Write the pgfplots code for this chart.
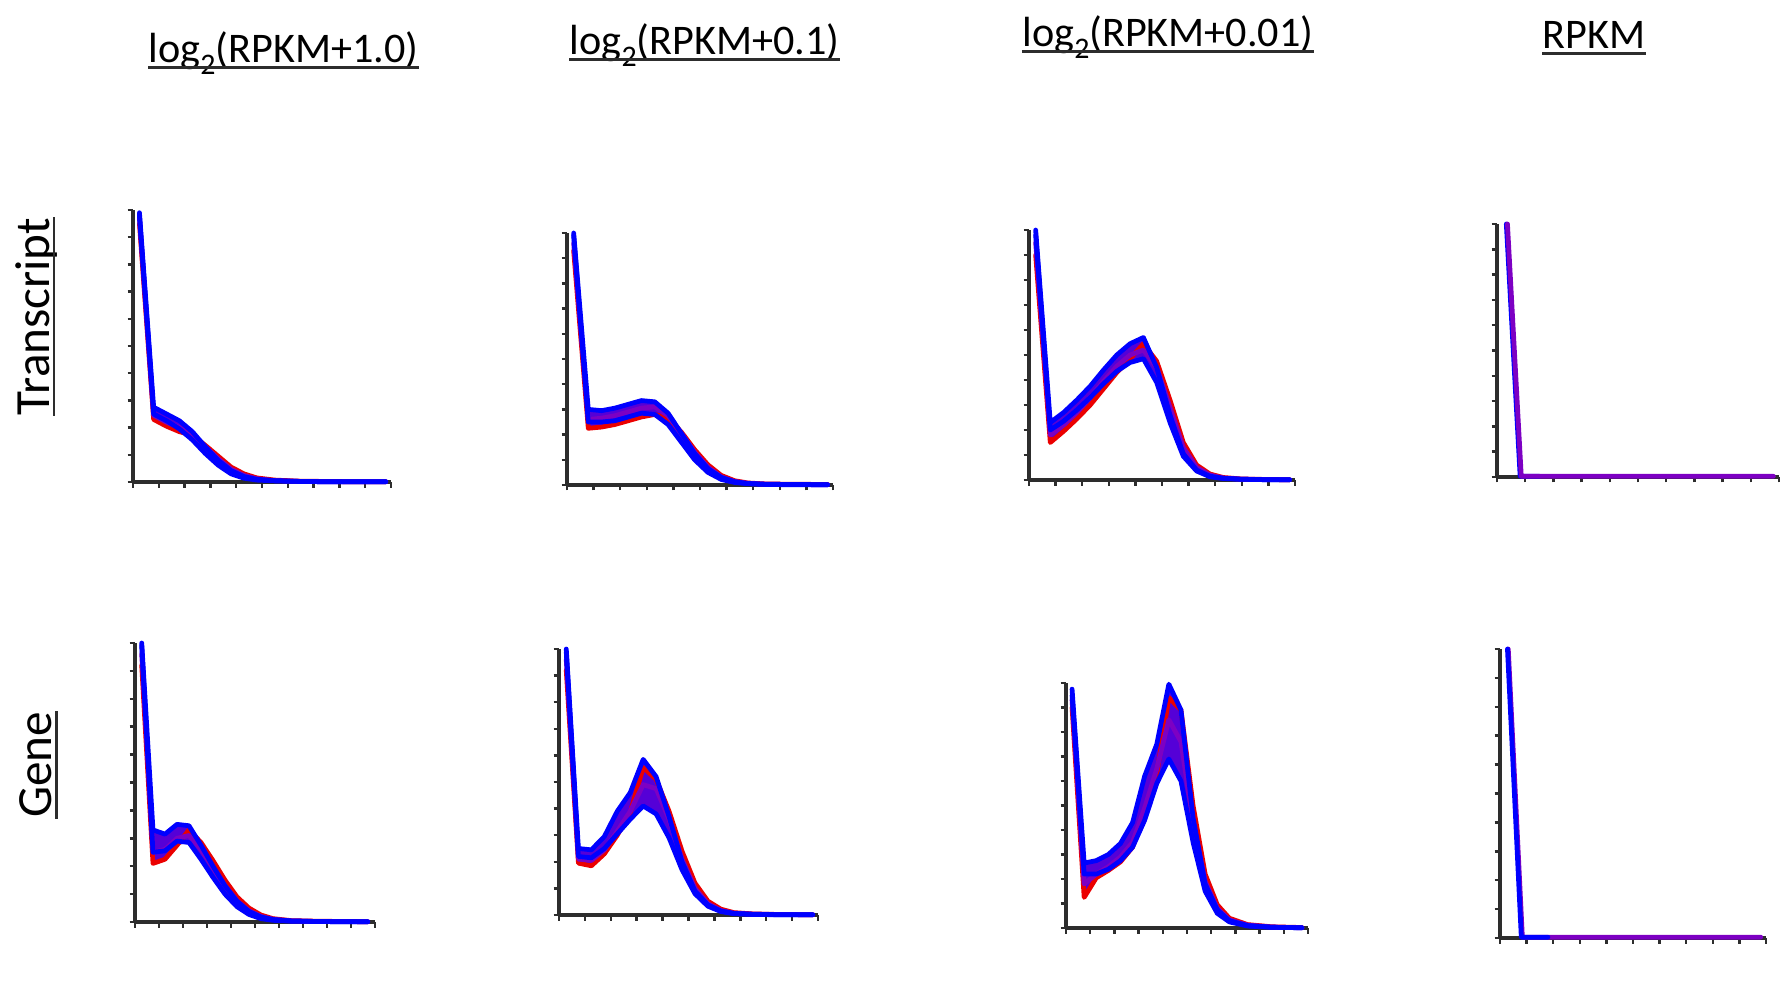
\documentclass[border=0pt]{standalone}
\usepackage{pgfplots}
\pgfplotsset{compat=1.18}
\usepackage{fontspec}
\setmainfont{Carlito}
\definecolor{cR}{RGB}{235,0,0}
\definecolor{cB}{RGB}{0,0,255}
\definecolor{cP}{RGB}{125,0,195}
\definecolor{cBand}{RGB}{85,0,215}
\definecolor{axc}{RGB}{45,45,45}
\newcommand{\subtwo}{\raisebox{-3.2pt}{\fontsize{8.5}{8.5}\selectfont 2}}
\pgfplotsset{
  panel/.style={scale only axis, anchor=south west,
    axis lines=left, axis line style={-, line width=0.9pt, axc},
    xmin=0, xmax=10, ymin=0, ymax=10,
    xtick={0,...,10}, ytick={0,...,10},
    xticklabels={}, yticklabels={},
    tick align=outside, major tick length=0.55mm,
    tick style={line width=0.7pt, axc}, clip=false},
  crv/.style={line width=1.35pt, line join=round, line cap=round, no markers},
  band/.style={fill=cBand, draw=none, no markers}
}
\begin{document}
\begin{tikzpicture}
\useasboundingbox (0,0) rectangle (178.5mm,98.1mm);
% column titles
\node[anchor=base, inner sep=0, font=\fontsize{12}{14}\selectfont] (t1) at (28.35mm,91.8mm) {log\subtwo(RPKM+1.0)};
\draw[line width=0.7pt, axc] ([yshift=-1.3pt]t1.base west) -- ([yshift=-1.3pt]t1.base east);
\node[anchor=base, inner sep=0, font=\fontsize{12}{14}\selectfont] (t2) at (70.47mm,92.6mm) {log\subtwo(RPKM+0.1)};
\draw[line width=0.7pt, axc] ([yshift=-1.3pt]t2.base west) -- ([yshift=-1.3pt]t2.base east);
\node[anchor=base, inner sep=0, font=\fontsize{12}{14}\selectfont] (t3) at (116.8mm,93.4mm) {log\subtwo(RPKM+0.01)};
\draw[line width=0.7pt, axc] ([yshift=-1.3pt]t3.base west) -- ([yshift=-1.3pt]t3.base east);
\node[anchor=base, inner sep=0, font=\fontsize{12}{14}\selectfont] (t4) at (159.4mm,93.2mm) {RPKM};
\draw[line width=0.7pt, axc] ([yshift=-1.3pt]t4.base west) -- ([yshift=-1.3pt]t4.base east);
% row labels
\node[anchor=base, inner sep=0, rotate=90, font=\fontsize{14}{16}\selectfont] (r1) at (4.9mm,66.45mm) {Transcript};
\draw[line width=0.7pt, axc] ([xshift=1.4pt]r1.base west) -- ([xshift=1.4pt]r1.base east);
\node[anchor=base, inner sep=0, rotate=90, font=\fontsize{14}{16}\selectfont] (r2) at (5.15mm,21.6mm) {Gene};
\draw[line width=0.7pt, axc] ([xshift=1.4pt]r2.base west) -- ([xshift=1.4pt]r2.base east);

% ---------- Panel 1: Transcript, log2(RPKM+1.0)
\begin{axis}[panel, at={(13.3mm,49.9mm)}, width=25.8mm, height=27.2mm]
\addplot[band] coordinates {(0.25,9.9) (0.8,2.75) (1.3,2.5) (1.8,2.25) (2.3,1.85) (2.8,1.35) (3.3,0.95) (3.8,0.55) (4.3,0.3) (4.8,0.15) (5.5,0.07) (6.5,0.03) (7.5,0.02) (8.5,0.01) (9.8,0.01)
 (9.8,0.01) (8.5,0.01) (7.5,0.01) (6.5,0.02) (5.5,0.04) (4.8,0.07) (4.3,0.14) (3.8,0.3) (3.3,0.62) (2.8,1.05) (2.3,1.55) (1.8,1.85) (1.3,2.05) (0.8,2.3) (0.25,9.5)};
\addplot[crv, cR] coordinates {(0.25,9.5) (0.8,2.3) (1.3,2.05) (1.8,1.85) (2.3,1.72) (2.8,1.35) (3.3,0.95) (3.8,0.55) (4.3,0.3) (4.8,0.15) (5.5,0.07) (6.5,0.03) (7.5,0.02) (8.5,0.01) (9.8,0.01)};
\addplot[crv, cP] coordinates {(0.25,9.7) (0.8,2.45) (1.3,2.2) (1.8,2.0) (2.3,1.75) (2.8,1.3) (3.3,0.85) (3.8,0.47) (4.3,0.24) (4.8,0.12) (5.5,0.05) (6.5,0.02) (7.5,0.01) (8.5,0.01) (9.8,0.01)};
\addplot[crv, cB] coordinates {(0.25,9.8) (0.8,2.5) (1.3,2.25) (1.8,1.95) (2.3,1.55) (2.8,1.05) (3.3,0.62) (3.8,0.3) (4.3,0.14) (4.8,0.07) (5.5,0.04) (6.5,0.02) (7.5,0.01) (8.5,0.01) (9.8,0.01)};
\addplot[crv, cB] coordinates {(0.25,9.9) (0.8,2.75) (1.3,2.5) (1.8,2.25) (2.3,1.85) (2.8,1.3) (3.3,0.8) (3.8,0.42) (4.3,0.2) (4.8,0.1) (5.5,0.05) (6.5,0.02) (7.5,0.01) (8.5,0.01) (9.8,0.01)};
\end{axis}

% ---------- Panel 2: Transcript, log2(RPKM+0.1)
\begin{axis}[panel, at={(56.7mm,49.6mm)}, width=26.6mm, height=25.2mm]
\addplot[band] coordinates {(0.25,10) (0.8,3.0) (1.3,2.95) (1.8,3.05) (2.3,3.2) (2.8,3.35) (3.3,3.3) (3.8,2.85) (4.3,2.1) (4.8,1.4) (5.3,0.8) (5.8,0.38) (6.3,0.17) (6.8,0.08) (7.5,0.04) (8.5,0.03) (9.8,0.02)
 (9.8,0.01) (8.5,0.01) (7.5,0.02) (6.8,0.05) (6.3,0.1) (5.8,0.22) (5.3,0.5) (4.8,1.0) (4.3,1.7) (3.8,2.4) (3.3,2.8) (2.8,2.7) (2.3,2.55) (1.8,2.4) (1.3,2.3) (0.8,2.25) (0.25,9.3)};
\addplot[crv, cR] coordinates {(0.25,9.3) (0.8,2.25) (1.3,2.3) (1.8,2.4) (2.3,2.55) (2.8,2.7) (3.3,2.8) (3.8,2.65) (4.3,2.1) (4.8,1.4) (5.3,0.8) (5.8,0.38) (6.3,0.17) (6.8,0.08) (7.5,0.04) (8.5,0.03) (9.8,0.02)};
\addplot[crv, cP] coordinates {(0.25,9.6) (0.8,2.6) (1.3,2.65) (1.8,2.75) (2.3,2.9) (2.8,3.05) (3.3,3.1) (3.8,2.75) (4.3,2.05) (4.8,1.3) (5.3,0.7) (5.8,0.32) (6.3,0.14) (6.8,0.07) (7.5,0.03) (8.5,0.02) (9.8,0.01)};
\addplot[crv, cB] coordinates {(0.25,9.9) (0.8,2.5) (1.3,2.5) (1.8,2.55) (2.3,2.7) (2.8,2.85) (3.3,2.8) (3.8,2.4) (4.3,1.7) (4.8,1.0) (5.3,0.5) (5.8,0.22) (6.3,0.1) (6.8,0.05) (7.5,0.02) (8.5,0.01) (9.8,0.01)};
\addplot[crv, cB] coordinates {(0.25,10) (0.8,3.0) (1.3,2.95) (1.8,3.05) (2.3,3.2) (2.8,3.35) (3.3,3.3) (3.8,2.85) (4.3,2.05) (4.8,1.25) (5.3,0.65) (5.8,0.3) (6.3,0.13) (6.8,0.06) (7.5,0.03) (8.5,0.02) (9.8,0.01)};
\end{axis}

% ---------- Panel 3: Transcript, log2(RPKM+0.01)
\begin{axis}[panel, at={(102.9mm,50.1mm)}, width=26.6mm, height=25.0mm]
\addplot[band] coordinates {(0.25,10) (0.8,2.3) (1.3,2.7) (1.8,3.2) (2.3,3.75) (2.8,4.4) (3.3,5.0) (3.8,5.45) (4.3,5.7) (4.8,4.75) (5.3,3.2) (5.8,1.5) (6.3,0.6) (6.8,0.24) (7.3,0.1) (8,0.04) (9,0.02) (9.8,0.01)
 (9.8,0.01) (9,0.01) (8,0.03) (7.3,0.06) (6.8,0.13) (6.3,0.36) (5.8,0.95) (5.3,2.3) (4.8,3.9) (4.3,4.85) (3.8,4.7) (3.3,4.3) (2.8,3.65) (2.3,3.0) (1.8,2.45) (1.3,1.95) (0.8,1.5) (0.25,9.0)};
\addplot[crv, cR] coordinates {(0.25,9.0) (0.8,1.5) (1.3,1.95) (1.8,2.45) (2.3,3.0) (2.8,3.65) (3.3,4.3) (3.8,4.85) (4.3,5.45) (4.8,4.75) (5.3,3.2) (5.8,1.5) (6.3,0.6) (6.8,0.24) (7.3,0.1) (8,0.04) (9,0.02) (9.8,0.01)};
\addplot[crv, cP] coordinates {(0.25,9.5) (0.8,1.8) (1.3,2.2) (1.8,2.7) (2.3,3.3) (2.8,3.95) (3.3,4.55) (3.8,5.0) (4.3,5.2) (4.8,4.5) (5.3,2.9) (5.8,1.3) (6.3,0.5) (6.8,0.2) (7.3,0.08) (8,0.03) (9,0.02) (9.8,0.01)};
\addplot[crv, cB] coordinates {(0.25,9.8) (0.8,2.0) (1.3,2.35) (1.8,2.8) (2.3,3.3) (2.8,3.85) (3.3,4.35) (3.8,4.7) (4.3,4.85) (4.8,3.9) (5.3,2.3) (5.8,0.95) (6.3,0.36) (6.8,0.13) (7.3,0.06) (8,0.03) (9,0.01) (9.8,0.01)};
\addplot[crv, cB] coordinates {(0.25,10) (0.8,2.3) (1.3,2.7) (1.8,3.2) (2.3,3.75) (2.8,4.4) (3.3,5.0) (3.8,5.45) (4.3,5.7) (4.8,4.5) (5.3,2.6) (5.8,1.05) (6.3,0.4) (6.8,0.15) (7.3,0.07) (8,0.03) (9,0.01) (9.8,0.01)};
\end{axis}

% ---------- Panel 4: Transcript, RPKM
\begin{axis}[panel, at={(149.7mm,50.4mm)}, width=28.2mm, height=25.3mm]
\addplot[crv, cB] coordinates {(0.33,10) (0.82,0.03) (1.5,0.03)};
\addplot[crv, cP] coordinates {(0.37,10) (0.86,0.03) (1.5,0.03) (2.5,0.03) (3.5,0.03) (4.5,0.03) (5.5,0.03) (6.5,0.03) (7.5,0.03) (8.5,0.03) (9.8,0.03)};
\end{axis}

% ---------- Panel 5: Gene, log2(RPKM+1.0)
\begin{axis}[panel, at={(13.5mm,5.9mm)}, width=24.0mm, height=27.9mm]
\addplot[band] coordinates {(0.28,10) (0.75,3.3) (1.25,3.15) (1.75,3.5) (2.25,3.45) (2.75,2.85) (3.25,2.2) (3.75,1.5) (4.25,0.9) (4.75,0.5) (5.25,0.25) (5.75,0.12) (6.5,0.05) (7.5,0.03) (8.5,0.02) (9.7,0.01)
 (9.7,0.01) (8.5,0.01) (7.5,0.02) (6.5,0.03) (5.75,0.06) (5.25,0.12) (4.75,0.27) (4.25,0.55) (3.75,1.0) (3.25,1.6) (2.75,2.25) (2.25,2.85) (1.75,2.75) (1.25,2.25) (0.75,2.1) (0.28,9.2)};
\addplot[crv, cR] coordinates {(0.28,9.2) (0.75,2.1) (1.25,2.25) (1.75,2.75) (2.25,3.3) (2.75,2.85) (3.25,2.2) (3.75,1.5) (4.25,0.9) (4.75,0.5) (5.25,0.25) (5.75,0.12) (6.5,0.05) (7.5,0.03) (8.5,0.02) (9.7,0.01)};
\addplot[crv, cP] coordinates {(0.28,9.6) (0.75,2.5) (1.25,2.6) (1.75,3.0) (2.25,3.1) (2.75,2.6) (3.25,1.95) (3.75,1.3) (4.25,0.75) (4.75,0.4) (5.25,0.2) (5.75,0.1) (6.5,0.04) (7.5,0.02) (8.5,0.02) (9.7,0.01)};
\addplot[crv, cB] coordinates {(0.28,9.9) (0.75,2.5) (1.25,2.55) (1.75,2.9) (2.25,2.85) (2.75,2.25) (3.25,1.6) (3.75,1.0) (4.25,0.55) (4.75,0.27) (5.25,0.12) (5.75,0.06) (6.5,0.03) (7.5,0.02) (8.5,0.01) (9.7,0.01)};
\addplot[crv, cB] coordinates {(0.28,10) (0.75,3.3) (1.25,3.15) (1.75,3.5) (2.25,3.45) (2.75,2.75) (3.25,2.0) (3.75,1.3) (4.25,0.75) (4.75,0.38) (5.25,0.18) (5.75,0.09) (6.5,0.04) (7.5,0.02) (8.5,0.01) (9.7,0.01)};
\end{axis}

% ---------- Panel 6: Gene, log2(RPKM+0.1)
\begin{axis}[panel, at={(55.9mm,6.6mm)}, width=25.9mm, height=26.6mm]
\addplot[band] coordinates {(0.28,10) (0.75,2.5) (1.25,2.45) (1.75,2.95) (2.25,3.9) (2.75,4.6) (3.25,5.85) (3.75,5.2) (4.25,3.9) (4.75,2.4) (5.25,1.2) (5.75,0.52) (6.25,0.22) (6.75,0.09) (7.5,0.04) (8.5,0.02) (9.8,0.01)
 (9.8,0.01) (8.5,0.01) (7.5,0.02) (6.75,0.05) (6.25,0.13) (5.75,0.33) (5.25,0.8) (4.75,1.7) (4.25,2.9) (3.75,3.8) (3.25,4.1) (2.75,3.6) (2.25,3.0) (1.75,2.3) (1.25,1.85) (0.75,1.95) (0.28,9.2)};
\addplot[crv, cR] coordinates {(0.28,9.2) (0.75,1.95) (1.25,1.85) (1.75,2.3) (2.25,3.0) (2.75,3.85) (3.25,5.55) (3.75,5.1) (4.25,3.9) (4.75,2.4) (5.25,1.2) (5.75,0.52) (6.25,0.22) (6.75,0.09) (7.5,0.04) (8.5,0.02) (9.8,0.01)};
\addplot[crv, cP] coordinates {(0.28,9.6) (0.75,2.1) (1.25,2.05) (1.75,2.45) (2.25,3.15) (2.75,3.9) (3.25,4.9) (3.75,4.75) (4.25,3.6) (4.75,2.1) (5.25,1.0) (5.75,0.42) (6.25,0.17) (6.75,0.07) (7.5,0.03) (8.5,0.02) (9.8,0.01)};
\addplot[crv, cB] coordinates {(0.28,9.9) (0.75,2.2) (1.25,2.15) (1.75,2.5) (2.25,3.05) (2.75,3.6) (3.25,4.1) (3.75,3.8) (4.25,2.9) (4.75,1.7) (5.25,0.8) (5.75,0.33) (6.25,0.13) (6.75,0.05) (7.5,0.02) (8.5,0.01) (9.8,0.01)};
\addplot[crv, cB] coordinates {(0.28,10) (0.75,2.5) (1.25,2.45) (1.75,2.95) (2.25,3.9) (2.75,4.6) (3.25,5.85) (3.75,5.2) (4.25,3.7) (4.75,2.0) (5.25,0.9) (5.75,0.38) (6.25,0.15) (6.75,0.06) (7.5,0.03) (8.5,0.01) (9.8,0.01)};
\end{axis}

% ---------- Panel 7: Gene, log2(RPKM+0.01)
\begin{axis}[panel, at={(106.6mm,5.3mm)}, width=24.2mm, height=24.5mm]
\addplot[band] coordinates {(0.25,9.75) (0.75,2.65) (1.25,2.75) (1.75,3.0) (2.25,3.45) (2.75,4.3) (3.25,6.2) (3.75,7.5) (4.25,9.95) (4.75,8.9) (5.25,5.0) (5.75,2.2) (6.25,0.95) (6.75,0.4) (7.5,0.14) (8.5,0.05) (9.75,0.02)
 (9.75,0.01) (8.5,0.03) (7.5,0.08) (6.75,0.25) (6.25,0.6) (5.75,1.5) (5.25,3.5) (4.75,6.0) (4.25,6.9) (3.75,5.9) (3.25,4.4) (2.75,3.3) (2.25,2.7) (1.75,2.35) (1.25,2.05) (0.75,1.25) (0.25,9.0)};
\addplot[crv, cR] coordinates {(0.25,9.0) (0.75,1.25) (1.25,2.05) (1.75,2.35) (2.25,2.7) (2.75,3.3) (3.25,4.6) (3.75,6.3) (4.25,9.4) (4.75,8.9) (5.25,5.0) (5.75,2.2) (6.25,0.95) (6.75,0.4) (7.5,0.14) (8.5,0.05) (9.75,0.02)};
\addplot[crv, cP] coordinates {(0.25,9.3) (0.75,1.8) (1.25,2.2) (1.75,2.5) (2.25,2.9) (2.75,3.5) (3.25,4.9) (3.75,6.5) (4.25,8.5) (4.75,7.6) (5.25,4.3) (5.75,1.9) (6.25,0.8) (6.75,0.33) (7.5,0.12) (8.5,0.04) (9.75,0.01)};
\addplot[crv, cB] coordinates {(0.25,9.5) (0.75,2.2) (1.25,2.2) (1.75,2.4) (2.25,2.75) (2.75,3.3) (3.25,4.4) (3.75,5.9) (4.25,6.9) (4.75,6.0) (5.25,3.5) (5.75,1.5) (6.25,0.6) (6.75,0.25) (7.5,0.08) (8.5,0.03) (9.75,0.01)};
\addplot[crv, cB] coordinates {(0.25,9.75) (0.75,2.65) (1.25,2.75) (1.75,3.0) (2.25,3.45) (2.75,4.3) (3.25,6.2) (3.75,7.5) (4.25,9.95) (4.75,8.9) (5.25,4.5) (5.75,1.8) (6.25,0.75) (6.75,0.3) (7.5,0.1) (8.5,0.03) (9.75,0.01)};
\end{axis}

% ---------- Panel 8: Gene, RPKM
\begin{axis}[panel, at={(150.0mm,4.3mm)}, width=26.6mm, height=28.9mm]
\addplot[crv, cP] coordinates {(0.31,10) (0.84,0.03) (1.5,0.03) (2.5,0.03) (3.5,0.03) (4.5,0.03) (5.5,0.03) (6.5,0.03) (7.5,0.03) (8.5,0.03) (9.8,0.03)};
\addplot[crv, cB] coordinates {(0.28,10) (0.8,0.03) (1.8,0.03)};
\end{axis}
\end{tikzpicture}
\end{document}
